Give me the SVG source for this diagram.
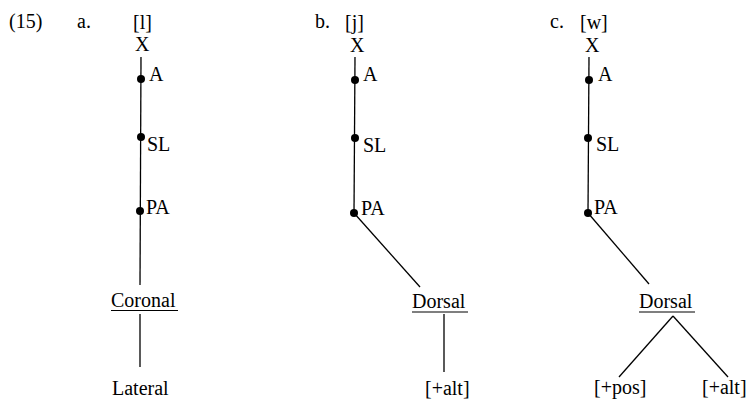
<svg xmlns="http://www.w3.org/2000/svg" width="755" height="400" viewBox="0 0 755 400">
<style>
text{font-family:"Liberation Serif","Times New Roman",serif;font-size:20px;fill:#000}
.e{stroke:#000;stroke-width:1.3;fill:none}
.u{stroke:#000;stroke-width:1.2}
.d{fill:#000}
</style>
<rect width="755" height="400" fill="#fff"/>
<g id="labels">
<text x="9" y="28">(15)</text>
<text x="77" y="28">a.</text>
<text x="315" y="28">b.</text>
<text x="550" y="28">c.</text>
</g>
<g id="connectors">
<line class="e" x1="141" y1="57" x2="140" y2="285"/>
<line class="e" x1="140" y1="314" x2="140" y2="367"/>
<line class="e" x1="355" y1="57" x2="354" y2="213"/>
<line class="e" x1="354" y1="213" x2="420" y2="287"/>
<line class="e" x1="444" y1="314" x2="444" y2="372"/>
<line class="e" x1="589" y1="57" x2="588" y2="213"/>
<line class="e" x1="588" y1="213" x2="649" y2="284"/>
<line class="e" x1="673" y1="316" x2="619" y2="377"/>
<line class="e" x1="673" y1="316" x2="728" y2="377"/>
</g>
<g id="a-seg"><text x="133" y="29">[l]</text></g>
<g id="a-X"><text x="135" y="51">X</text></g>
<g id="a-A"><circle class="d" cx="141" cy="79" r="4"/><text x="149" y="81">A</text></g>
<g id="a-SL"><circle class="d" cx="141" cy="137" r="4"/><text x="147" y="151">SL</text></g>
<g id="a-PA"><circle class="d" cx="140" cy="211" r="4"/><text x="146" y="214">PA</text></g>
<g id="a-Coronal"><text x="111" y="307">Coronal</text><line class="u" x1="111" y1="310.5" x2="178" y2="310.5"/></g>
<g id="a-Lateral"><text x="112" y="395">Lateral</text></g>

<g id="b-seg"><text x="345" y="29">[j]</text></g>
<g id="b-X"><text x="350" y="52">X</text></g>
<g id="b-A"><circle class="d" cx="355" cy="80" r="4"/><text x="363" y="81">A</text></g>
<g id="b-SL"><circle class="d" cx="355" cy="138" r="4"/><text x="363" y="152">SL</text></g>
<g id="b-PA"><circle class="d" cx="354" cy="213" r="4"/><text x="361" y="215">PA</text></g>
<g id="b-Dorsal"><text x="412" y="308">Dorsal</text><line class="u" x1="412" y1="312" x2="468" y2="312"/></g>
<g id="b-alt"><text x="425" y="395">[+alt]</text></g>

<g id="c-seg"><text x="580" y="29">[w]</text></g>
<g id="c-X"><text x="585" y="52">X</text></g>
<g id="c-A"><circle class="d" cx="589" cy="80" r="4"/><text x="598" y="81">A</text></g>
<g id="c-SL"><circle class="d" cx="588" cy="138" r="4"/><text x="596" y="151">SL</text></g>
<g id="c-PA"><circle class="d" cx="588" cy="213" r="4"/><text x="594" y="214">PA</text></g>
<g id="c-Dorsal"><text x="639" y="308">Dorsal</text><line class="u" x1="639" y1="312" x2="695" y2="312"/></g>
<g id="c-pos"><text x="594" y="394">[+pos]</text></g>
<g id="c-alt"><text x="702" y="394">[+alt]</text></g>
</svg>
